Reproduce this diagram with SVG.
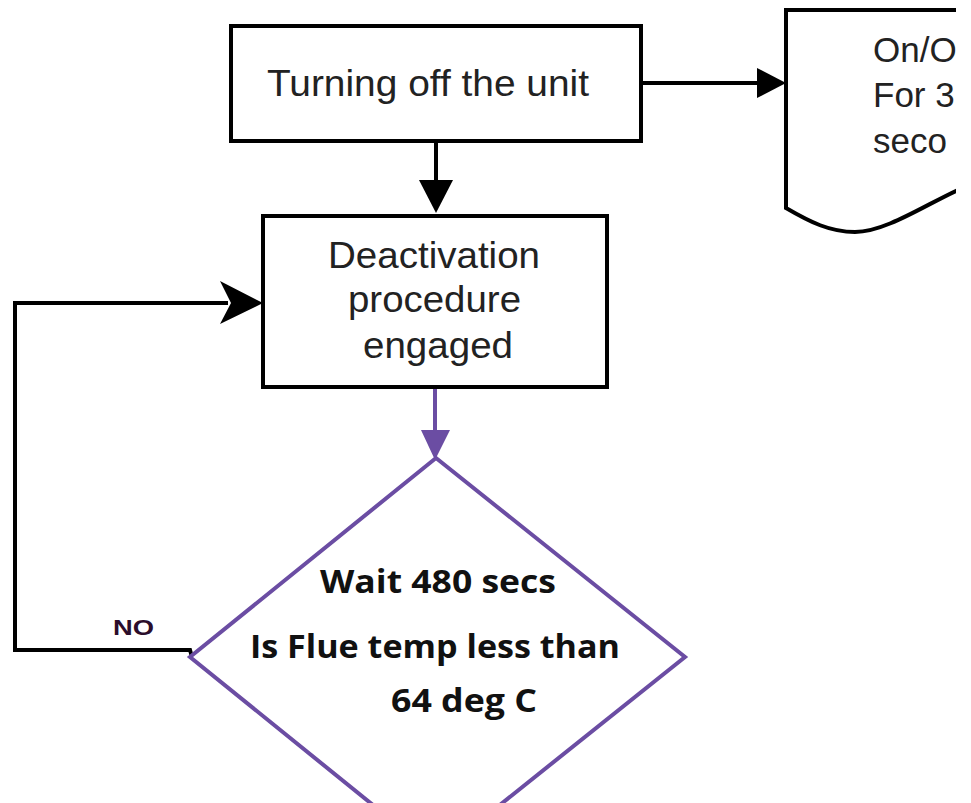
<svg xmlns="http://www.w3.org/2000/svg" width="971" height="803" viewBox="0 0 971 803">
<style>
.box{fill:#fff;stroke:#000;stroke-width:4}
.lbl{font-family:"Liberation Sans",Arial,sans-serif;font-size:37px;fill:#222}
.dlbl{font-family:"Open Sans",Lato,"Liberation Sans",sans-serif;font-weight:bold;font-size:33px;fill:#111}
.doc{font-family:"Liberation Sans",Arial,sans-serif;font-size:35px;fill:#222}
.k{fill:none;stroke:#000;stroke-width:4}
.p{fill:none;stroke:#6B4DA3;stroke-width:4}
</style>
<defs>
<clipPath id="clipDoc"><rect x="0" y="0" width="956" height="803"/></clipPath>
</defs>
<rect width="971" height="803" fill="#fff"/>
<g id="connectors">
  <line class="k" x1="436" y1="142" x2="436" y2="184"/>
  <polygon points="419,180 453,180 436,213" fill="#000"/>
  <line class="k" x1="641" y1="83" x2="762" y2="83"/>
  <polygon points="757,68 786,83 757,98" fill="#000"/>
  <polyline class="k" points="192,657 190,650 15,650 15,303 228,303"/>
  <polygon points="220,281 263,303 220,324 231,303" fill="#000"/>
  <line class="p" x1="435" y1="387" x2="435" y2="434"/>
  <polygon points="421,430 450,430 435,460" fill="#6B4DA3"/>
  <text x="113" y="635" font-family="Liberation Sans,Arial,sans-serif" font-weight="bold" font-size="22" fill="#2b0d2b" textLength="41" lengthAdjust="spacingAndGlyphs">NO</text>
</g>
<g id="turning-off">
  <rect class="box" x="231" y="26" width="410" height="115"/>
  <text class="lbl" x="267" y="96" fill="#333" textLength="322" lengthAdjust="spacingAndGlyphs">Turning off the unit</text>
</g>
<g id="deactivation">
  <rect class="box" x="263" y="216" width="344" height="171"/>
  <text class="lbl" x="328" y="268" textLength="212" lengthAdjust="spacingAndGlyphs">Deactivation</text>
  <text class="lbl" x="348" y="312" textLength="173" lengthAdjust="spacingAndGlyphs">procedure</text>
  <text class="lbl" x="363" y="358" textLength="150" lengthAdjust="spacingAndGlyphs">engaged</text>
</g>
<g id="onoff" clip-path="url(#clipDoc)">
  <path class="box" d="M958,10 H786 V208 C810,222 830,232 855,232 C885,232 925,205 958,190"/>
  <text class="doc" x="873" y="62">On/O</text>
  <text class="doc" x="873" y="107">For 3</text>
  <text class="doc" x="873" y="153">seco</text>
</g>
<g id="flue-check">
  <polygon points="436,458 685,657 436,856 190,657" fill="#fff" stroke="#6B4DA3" stroke-width="4"/>
  <text class="dlbl" x="320" y="593" textLength="236" lengthAdjust="spacingAndGlyphs">Wait 480 secs</text>
  <text class="dlbl" x="250" y="658" textLength="370" lengthAdjust="spacingAndGlyphs">Is Flue temp less than</text>
  <text class="dlbl" x="391" y="712" textLength="146" lengthAdjust="spacingAndGlyphs">64 deg C</text>
</g>
</svg>
